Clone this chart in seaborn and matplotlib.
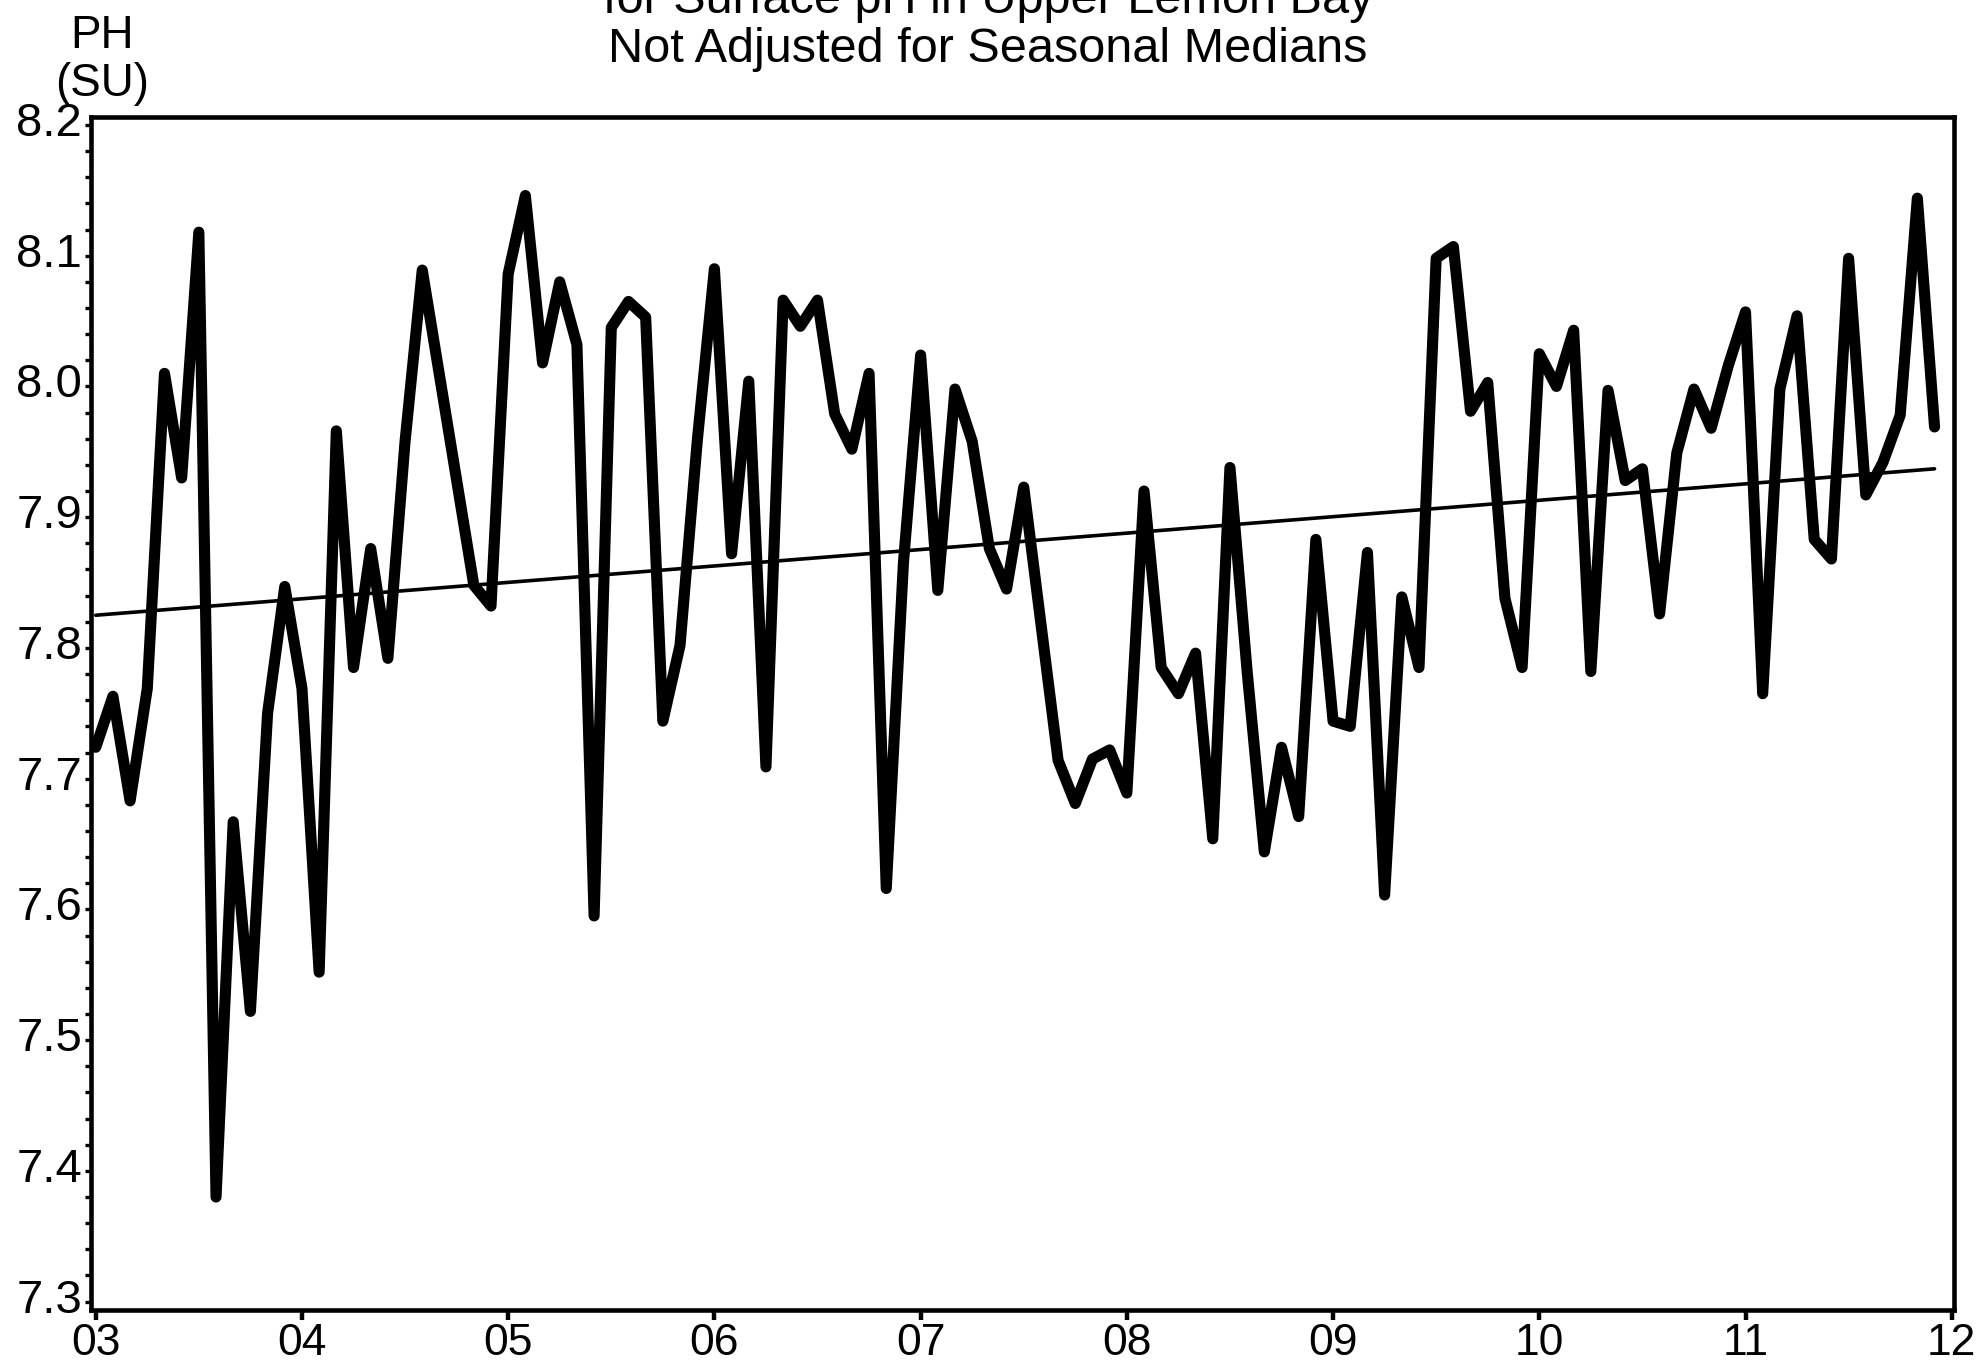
import numpy as np
import pandas as pd
import matplotlib
matplotlib.use('Agg')
import matplotlib.pyplot as plt
import matplotlib.ticker as mticker
import matplotlib.transforms as mtransforms
import seaborn as sns

sns.set_theme(style='white')
plt.rcParams['font.family'] = ['Liberation Sans', 'DejaVu Sans']

# monthly samples, counted from Jan 2003
month_index = [0, 1, 2, 3, 4, 5, 6, 7, 8, 9, 10, 11, 12, 13, 14, 15, 16, 17, 18, 19,
               22, 23, 24, 25, 26, 27, 28, 29, 30, 31, 32, 33, 34, 35, 36, 37, 38, 39,
               40, 41, 42, 43, 44, 45, 46, 47, 48, 49, 50, 51, 52, 53, 54,
               56, 57, 58, 59, 60, 61, 62, 63, 64, 65, 66, 67, 68, 69, 70, 71, 72, 73,
               74, 75, 76, 77, 78, 79, 80, 81, 82, 83, 84, 85, 86, 87, 88, 89, 90, 91,
               92, 93, 94, 95, 96, 97, 98, 99, 100, 101, 102, 103, 104, 105, 106, 107]
ph = [7.724, 7.763, 7.683, 7.769, 8.010, 7.930, 8.118, 7.380, 7.667, 7.522,
      7.750, 7.847, 7.769, 7.552, 7.966, 7.785, 7.876, 7.792, 7.958, 8.089,
      7.848, 7.832, 8.086, 8.146, 8.018, 8.080, 8.032, 7.595, 8.045, 8.065,
      8.053, 7.744, 7.802, 7.958, 8.090, 7.872, 8.004, 7.709, 8.066, 8.046,
      8.066, 7.979, 7.952, 8.010, 7.616, 7.865, 8.024, 7.844, 7.998, 7.958,
      7.876, 7.845, 7.923,
      7.714, 7.681, 7.715, 7.722, 7.689, 7.920, 7.785, 7.765, 7.796, 7.654,
      7.938, 7.782, 7.644, 7.724, 7.671, 7.883, 7.744, 7.740, 7.873, 7.611,
      7.839, 7.785, 8.098, 8.107, 7.981, 8.003, 7.838, 7.785, 8.025, 8.000,
      8.043, 7.782, 7.997, 7.928, 7.937, 7.826, 7.949, 7.998, 7.968, 8.016,
      8.057, 7.765, 7.998, 8.054, 7.883, 7.868, 8.098, 7.917, 7.942, 7.978,
      8.144, 7.969]

trend_months = [0, 107]
trend_ph = [7.825, 7.937]

year_ticks = [3, 4, 5, 6, 7, 8, 9, 10, 11, 12]
year_labels = ['03', '04', '05', '06', '07', '08', '09', '10', '11', '12']

df = pd.DataFrame({'year': 3 + np.array(month_index) / 12, 'ph': ph})
trend = pd.DataFrame({'year': 3 + np.array(trend_months) / 12, 'ph': trend_ph})

fig = plt.figure(figsize=(19.82, 13.64), dpi=100)
ax = fig.add_axes([0.04591, 0.03959, 0.93996, 0.87427])

sns.lineplot(data=df, x='year', y='ph', sort=False, estimator=None, ax=ax,
             color='black', linewidth=8, solid_joinstyle='round',
             solid_capstyle='round')
sns.lineplot(data=trend, x='year', y='ph', sort=False, estimator=None, ax=ax,
             color='black', linewidth=2.6)

ax.set_xlim(2.977, 12.011)
ax.set_ylim(7.2936, 8.2057)
ax.set_xticks(year_ticks)
ax.set_xticklabels(year_labels)
ax.yaxis.set_major_locator(mticker.MultipleLocator(0.1))
ax.yaxis.set_minor_locator(mticker.MultipleLocator(0.02))
ax.yaxis.set_major_formatter(mticker.FormatStrFormatter('%.1f'))
ax.set_xlabel('')
ax.set_ylabel('')

for s in ax.spines.values():
    s.set_visible(True)
    s.set_color('black')
    s.set_linewidth(3.3)

ax.tick_params(axis='x', which='major', direction='out', length=7.2, width=3.2,
               color='black', labelsize=32, pad=2, labelcolor='black', bottom=True)
ax.tick_params(axis='y', which='both', direction='out', length=4.3, width=2.4,
               color='black', labelsize=34, pad=2, labelcolor='black', left=True)

offset = mtransforms.ScaledTranslation(0, 6 / 100, fig.dpi_scale_trans)
for lab in ax.get_yticklabels():
    lab.set_transform(lab.get_transform() + offset)

# title block, first line runs off the top of the page
fig.text(0.4985, 1 - 13 / 1364, 'for Surface pH in Upper Lemon Bay', ha='center',
         va='baseline', fontsize=35, color='black')
fig.text(0.4985, 1 - 62 / 1364, 'Not Adjusted for Seasonal Medians', ha='center',
         va='baseline', fontsize=35, color='black')

fig.text(102 / 1982, 1 - 48 / 1364, 'PH', ha='center', va='baseline', fontsize=33,
         color='black')
fig.text(102 / 1982, 1 - 96 / 1364, '(SU)', ha='center', va='baseline', fontsize=33,
         color='black')

fig.savefig('out.png', dpi=100, facecolor='white')
